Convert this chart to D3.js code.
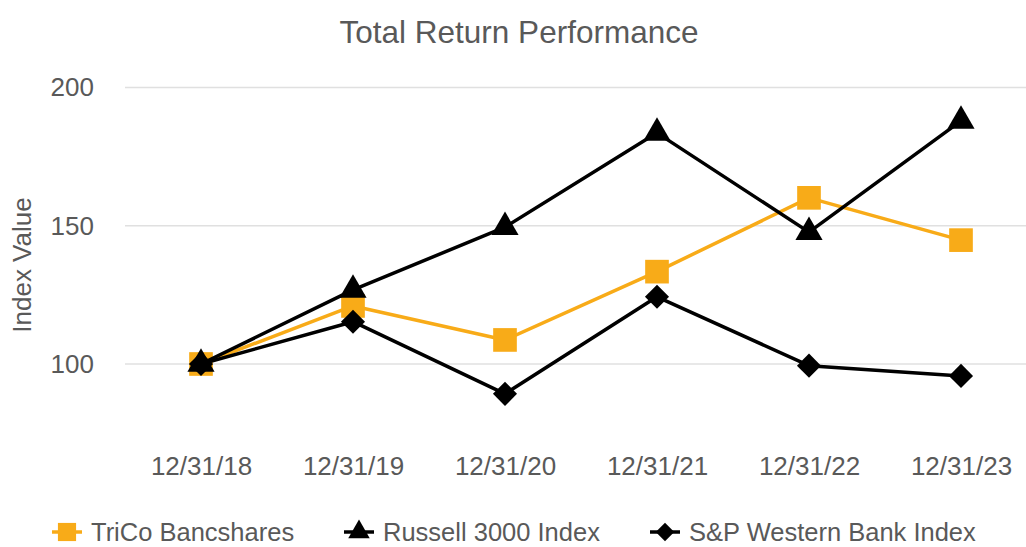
<!DOCTYPE html>
<html>
<head>
<meta charset="utf-8">
<script src="https://cdn.jsdelivr.net/npm/d3@7"></script>
<style>
  body { margin: 0; background: #fff; }
  svg { display: block; font-family: "Liberation Sans", Arial, sans-serif; }
  .tick text { fill: #595959; }
</style>
</head>
<body>
<svg id="chart" width="1026" height="547"></svg>
<script>
const years = ["12/31/18", "12/31/19", "12/31/20", "12/31/21", "12/31/22", "12/31/23"];
const trico = [100, 121, 108.7, 133.4, 160.1, 144.8];
const russell = [100, 126.8, 149.5, 183.6, 147.7, 187.9];
const westernBank = [100, 115.3, 89.2, 124.3, 99.4, 95.7];
const yTicks = [100, 150, 200];

// diamond = square turned 45 degrees (d3's own diamond is too narrow)
const series = [
  {name: "TriCo Bancshares", values: trico, color: "#F8AB18", symbol: d3.symbolSquare, rot: 0, size: 560, legendSize: 330},
  {name: "Russell 3000 Index", values: russell, color: "#000000", symbol: d3.symbolTriangle, rot: 0, size: 320, legendSize: 200},
  {name: "S&P Western Bank Index", values: westernBank, color: "#000000", symbol: d3.symbolSquare, rot: 45, size: 290, legendSize: 170}
];

const svg = d3.select("#chart");
const left = 125, right = 1037;

var x = d3.scalePoint()
    .domain(years)
    .range([left, right])
    .padding(0.5);

var y = d3.scaleLinear()
    .domain([100, 200])
    .range([364, 87.5]);

// gridlines
svg.append("g")
    .selectAll("line")
    .data(yTicks)
    .enter()
  .append("line")
    .attr("x1", left)
    .attr("x2", 1026)
    .attr("y1", d => y(d))
    .attr("y2", d => y(d))
    .attr("stroke", "#e0e0e0")
    .attr("stroke-width", 1.5);

// y axis labels
var yAxis = svg.append("g")
    .attr("transform", "translate(94,0)")
    .call(d3.axisLeft(y).tickValues(yTicks).tickSize(0).tickPadding(0));
yAxis.select(".domain").remove();
yAxis.selectAll("text")
    .attr("font-size", 26)
    .attr("font-family", "Liberation Sans, Arial, sans-serif");

// x axis labels
var xAxis = svg.append("g")
    .attr("transform", "translate(0,457)")
    .call(d3.axisBottom(x).tickSize(0).tickPadding(0));
xAxis.select(".domain").remove();
xAxis.selectAll("text")
    .attr("font-size", 26)
    .attr("font-family", "Liberation Sans, Arial, sans-serif");

svg.append("text")
    .attr("x", 519)
    .attr("y", 43)
    .attr("text-anchor", "middle")
    .attr("font-size", 31.5)
    .attr("fill", "#595959")
    .text("Total Return Performance");

svg.append("text")
    .attr("transform", "translate(31,265)rotate(-90)")
    .attr("text-anchor", "middle")
    .attr("font-size", 26)
    .attr("fill", "#595959")
    .text("Index Value");

var line = d3.line()
    .x((d, i) => x(years[i]))
    .y(d => y(d));

series.forEach(s => {
  var g = svg.append("g");
  g.append("path")
      .datum(s.values)
      .attr("d", line)
      .attr("fill", "none")
      .attr("stroke", s.color)
      .attr("stroke-width", 3.5)
      .attr("stroke-linejoin", "round");
  g.selectAll("path.marker")
      .data(s.values)
      .enter()
    .append("path")
      .attr("class", "marker")
      .attr("transform", (d, i) => "translate(" + x(years[i]) + "," + y(d) + ")rotate(" + s.rot + ")")
      .attr("d", d3.symbol().type(s.symbol).size(s.size))
      .attr("fill", s.color);
});

// legend
var legendX = [52, 344, 650];
var legend = svg.append("g")
    .selectAll("g")
    .data(series)
    .enter()
  .append("g")
    .attr("transform", (d, i) => "translate(" + legendX[i] + ",532)");

legend.append("line")
    .attr("x1", 0).attr("x2", 30)
    .attr("stroke", d => d.color)
    .attr("stroke-width", 3.5);
legend.append("path")
    .attr("transform", d => "translate(15,0)rotate(" + d.rot + ")")
    .attr("d", d => d3.symbol().type(d.symbol).size(d.legendSize)())
    .attr("fill", d => d.color);
legend.append("text")
    .attr("x", 39)
    .attr("y", 9)
    .attr("font-size", 25.5)
    .attr("fill", "#595959")
    .text(d => d.name);
</script>
</body>
</html>
